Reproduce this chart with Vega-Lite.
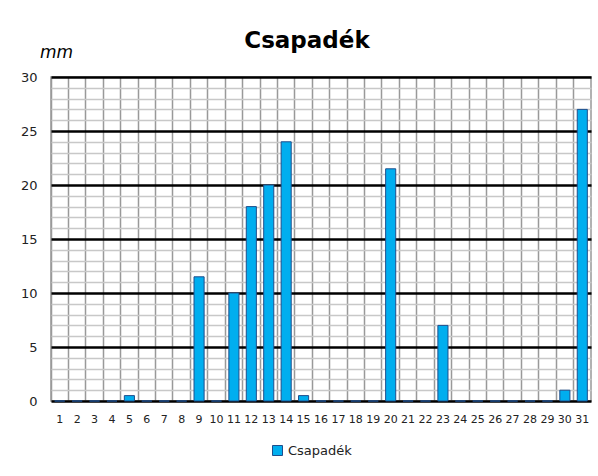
{
  "$schema": "https://vega.github.io/schema/vega-lite/v6.json",
  "autosize": "none",
  "width": 540,
  "height": 324,
  "padding": {"left": 51, "top": 77, "right": 7, "bottom": 75},
  "background": "white",
  "title": {"text": "Csapadék", "fontSize": 23, "font": "DejaVu Sans", "fontWeight": "bold", "color": "#000000", "offset": 24, "anchor": "middle", "frame": "group", "dy": 34, "dx": -14},
  "config": {"view": {"stroke": "#999999", "strokeWidth": 1.5}},
  "data": {"values": [
    {"nap": 1, "mm": 0, "s": "Csapadék"},
    {"nap": 2, "mm": 0, "s": "Csapadék"},
    {"nap": 3, "mm": 0, "s": "Csapadék"},
    {"nap": 4, "mm": 0, "s": "Csapadék"},
    {"nap": 5, "mm": 0.5, "s": "Csapadék"},
    {"nap": 6, "mm": 0, "s": "Csapadék"},
    {"nap": 7, "mm": 0, "s": "Csapadék"},
    {"nap": 8, "mm": 0, "s": "Csapadék"},
    {"nap": 9, "mm": 11.5, "s": "Csapadék"},
    {"nap": 10, "mm": 0, "s": "Csapadék"},
    {"nap": 11, "mm": 10, "s": "Csapadék"},
    {"nap": 12, "mm": 18, "s": "Csapadék"},
    {"nap": 13, "mm": 20, "s": "Csapadék"},
    {"nap": 14, "mm": 24, "s": "Csapadék"},
    {"nap": 15, "mm": 0.5, "s": "Csapadék"},
    {"nap": 16, "mm": 0, "s": "Csapadék"},
    {"nap": 17, "mm": 0, "s": "Csapadék"},
    {"nap": 18, "mm": 0, "s": "Csapadék"},
    {"nap": 19, "mm": 0, "s": "Csapadék"},
    {"nap": 20, "mm": 21.5, "s": "Csapadék"},
    {"nap": 21, "mm": 0, "s": "Csapadék"},
    {"nap": 22, "mm": 0, "s": "Csapadék"},
    {"nap": 23, "mm": 7, "s": "Csapadék"},
    {"nap": 24, "mm": 0, "s": "Csapadék"},
    {"nap": 25, "mm": 0, "s": "Csapadék"},
    {"nap": 26, "mm": 0, "s": "Csapadék"},
    {"nap": 27, "mm": 0, "s": "Csapadék"},
    {"nap": 28, "mm": 0, "s": "Csapadék"},
    {"nap": 29, "mm": 0, "s": "Csapadék"},
    {"nap": 30, "mm": 1, "s": "Csapadék"},
    {"nap": 31, "mm": 27, "s": "Csapadék"}
  ]},
  "mark": {"type": "bar", "width": {"band": 0.58}, "stroke": "#1f4e8c", "strokeWidth": 1},
  "encoding": {
    "x": {
      "field": "nap", "type": "ordinal",
      "scale": {"paddingInner": 0, "paddingOuter": 0},
      "axis": {
        "title": null, "labelAngle": 0, "domain": false, "ticks": false,
        "grid": true, "bandPosition": 0, "gridColor": "#999999", "gridWidth": 1.5,
        "labelFont": "DejaVu Sans", "labelFontSize": 11, "labelColor": "#222222", "labelPadding": 12
      }
    },
    "y": {
      "field": "mm", "type": "quantitative",
      "scale": {"domain": [0, 30], "nice": false},
      "axis": {
        "values": [0,1,2,3,4,5,6,7,8,9,10,11,12,13,14,15,16,17,18,19,20,21,22,23,24,25,26,27,28,29,30],
        "labelExpr": "datum.value % 5 === 0 ? datum.label : ''",
        "domain": false, "ticks": false, "grid": true,
        "gridColor": {"condition": {"test": "datum.value % 5 === 0", "value": "#000000"}, "value": "#c8c8c8"},
        "gridWidth": {"condition": {"test": "datum.value % 5 === 0", "value": 2.5}, "value": 1.5},
        "labelFont": "DejaVu Sans", "labelFontSize": 13, "labelColor": "#222222", "labelPadding": 14,
        "title": "mm", "titleAngle": 0, "titleFont": "DejaVu Sans", "titleFontSize": 17,
        "titleFontStyle": "italic", "titleFontWeight": "normal", "titleAlign": "center",
        "titleBaseline": "alphabetic", "titleX": 5, "titleY": -20, "titleColor": "#000000"
      }
    },
    "color": {
      "field": "s", "type": "nominal",
      "scale": {"range": ["#00aeef"]},
      "legend": {
        "title": null, "orient": "none", "legendX": 220, "legendY": 367,
        "symbolType": "square", "symbolSize": 100, "symbolStrokeColor": "#1f4e8c", "symbolStrokeWidth": 1,
        "labelFont": "DejaVu Sans", "labelFontSize": 13, "labelColor": "#222222"
      }
    }
  }
}
